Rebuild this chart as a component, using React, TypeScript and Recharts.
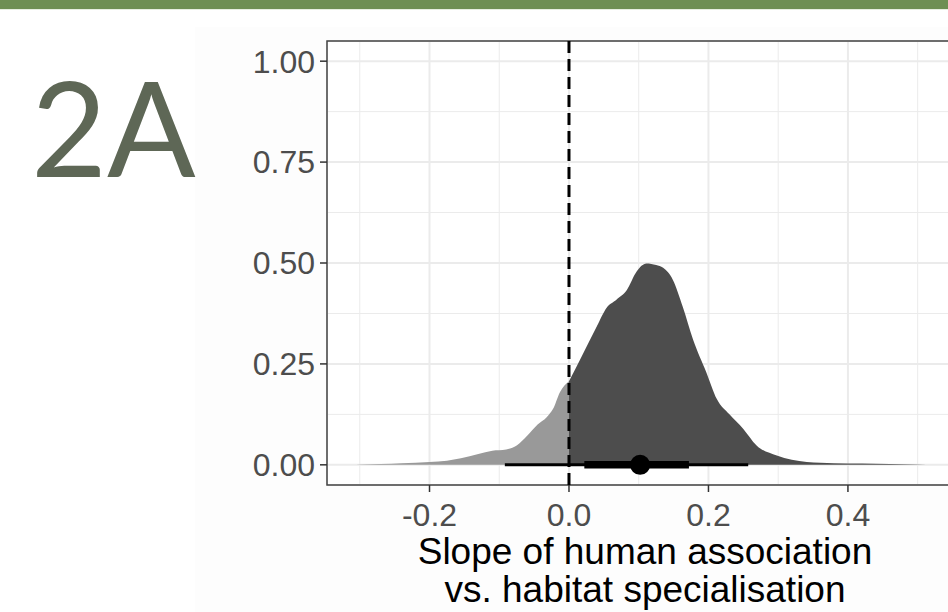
import React from 'react';
import {
  ComposedChart,
  Area,
  XAxis,
  YAxis,
  CartesianGrid,
  ReferenceLine,
  ReferenceDot,
  ReferenceArea,
} from 'recharts';

// ---- data ----
const slopeX = [
  -0.31, -0.3, -0.27, -0.24, -0.2, -0.175, -0.155, -0.13, -0.11, -0.09, -0.075, -0.06, -0.045,
  -0.032, -0.023, -0.013, 0, 0.016, 0.04, 0.054, 0.068, 0.083, 0.097, 0.111, 0.125, 0.135, 0.149,
  0.163, 0.178, 0.197, 0.212, 0.23, 0.25, 0.269, 0.298, 0.341, 0.38, 0.42, 0.46, 0.5, 0.525,
];
const densityValues = [
  0, 0.001, 0.002, 0.004, 0.007, 0.01, 0.016, 0.027, 0.035, 0.038, 0.048, 0.072, 0.1, 0.118, 0.138,
  0.18, 0.207, 0.261, 0.343, 0.389, 0.409, 0.433, 0.479, 0.499, 0.495, 0.488, 0.458, 0.392, 0.31,
  0.229, 0.163, 0.125, 0.089, 0.048, 0.023, 0.007, 0.004, 0.003, 0.002, 0.001, 0,
];
const pointEstimate = 0.102;
const thickInterval = [0.022, 0.172];
const thinInterval = [-0.092, 0.257];

const xDomain = [-0.347, 0.565];
const yDomain = [-0.05, 1.05];
const xMajorTicks = [-0.2, 0, 0.2, 0.4];
const xMinorTicks = [-0.3, -0.1, 0.1, 0.3, 0.5];
const yMajorTicks = [0, 0.25, 0.5, 0.75, 1];
const yMinorTicks = [0.125, 0.375, 0.625, 0.875];
const xTitleLines = ['Slope of human association', 'vs. habitat specialisation'];
const panelLabel = '2A';

const chartData = slopeX.map((x, i) => ({
  x,
  neg: x <= 0 ? densityValues[i] : null,
  pos: x >= 0 ? densityValues[i] : null,
}));

const FONT = '"Liberation Sans", Arial, Helvetica, sans-serif';

const XTitle = (props: any) => {
  const vb = props.viewBox || {};
  const cx = vb.x + vb.width / 2;
  return (
    <text textAnchor="middle" fill="#000" fontSize={37} fontFamily={FONT}>
      <tspan x={cx} y={vb.y + 79}>{xTitleLines[0]}</tspan>
      <tspan x={cx} y={vb.y + 117}>{xTitleLines[1]}</tspan>
    </text>
  );
};

export default function App() {
  return (
    <div
      style={{
        position: 'fixed',
        left: 0,
        top: 0,
        width: 948,
        height: 612,
        overflow: 'hidden',
        background: '#ffffff',
      }}
    >
      <div style={{ position: 'absolute', left: 195, top: 27, width: 760, height: 600, background: '#fdfdfd' }} />
      <div style={{ position: 'absolute', left: 0, top: 0, width: 948, height: 9, background: '#6e8f53' }} />
      <div style={{ position: 'absolute', left: 0, top: 9, width: 948, height: 1, background: '#e6eedf' }} />
      <svg style={{ position: 'absolute', left: 0, top: 20 }} width={260} height={220}>
        <text x={31} y={157} fontSize={131} fontFamily="Lato, sans-serif" fill="#5e6756">
          {panelLabel}
        </text>
      </svg>
      <div style={{ position: 'absolute', left: 0, top: 0 }}>
        <ComposedChart
          width={1000}
          height={612}
          data={chartData}
          margin={{ top: 41, right: 37, left: 0, bottom: 0 }}
        >
          <XAxis
            xAxisId="minor"
            dataKey="x"
            type="number"
            domain={xDomain}
            ticks={xMinorTicks}
            allowDataOverflow
            hide
          />
          <YAxis yAxisId="minor" type="number" domain={yDomain} ticks={yMinorTicks} allowDataOverflow hide />
          <CartesianGrid
            xAxisId="minor"
            yAxisId="minor"
            stroke="#ebebeb"
            strokeWidth={1}
            fill="#ffffff"
            fillOpacity={1}
          />
          <CartesianGrid stroke="#ebebeb" strokeWidth={2} />
          <XAxis
            dataKey="x"
            type="number"
            domain={xDomain}
            ticks={xMajorTicks}
            allowDataOverflow
            height={127}
            tickSize={7}
            tickMargin={11}
            tickFormatter={(v: number) => v.toFixed(1)}
            tick={{ fill: '#4d4d4d', fontSize: 32, fontFamily: FONT }}
            tickLine={{ stroke: '#333333', strokeWidth: 1.5 }}
            axisLine={false}
            label={{ content: XTitle } as any}
          />
          <YAxis
            type="number"
            domain={yDomain}
            ticks={yMajorTicks}
            allowDataOverflow
            width={327}
            tickSize={7}
            tickMargin={5}
            tickFormatter={(v: number) => v.toFixed(2)}
            tick={{ fill: '#4d4d4d', fontSize: 32, fontFamily: FONT }}
            tickLine={{ stroke: '#333333', strokeWidth: 1.5 }}
            axisLine={false}
          />
          <Area
            type="monotone"
            dataKey="neg"
            baseValue={0}
            fill="#999999"
            fillOpacity={1}
            stroke="none"
            isAnimationActive={false}
          />
          <Area
            type="monotone"
            dataKey="pos"
            baseValue={0}
            fill="#4d4d4d"
            fillOpacity={1}
            stroke="none"
            isAnimationActive={false}
          />
          <ReferenceLine x={0} stroke="#000" strokeWidth={3} strokeDasharray="12 6" />
          <ReferenceLine
            segment={[
              { x: thinInterval[0], y: 0 },
              { x: thinInterval[1], y: 0 },
            ]}
            stroke="#000"
            strokeWidth={3}
          />
          <ReferenceLine
            segment={[
              { x: thickInterval[0], y: 0 },
              { x: thickInterval[1], y: 0 },
            ]}
            stroke="#000"
            strokeWidth={7.5}
          />
          <ReferenceDot x={pointEstimate} y={0} r={10} fill="#000" stroke="none" />
          <ReferenceArea
            x1={xDomain[0]}
            x2={xDomain[1]}
            y1={yDomain[0]}
            y2={yDomain[1]}
            fill="none"
            stroke="#444"
            strokeWidth={1.5}
            ifOverflow="extendDomain"
          />
        </ComposedChart>
      </div>
    </div>
  );
}
